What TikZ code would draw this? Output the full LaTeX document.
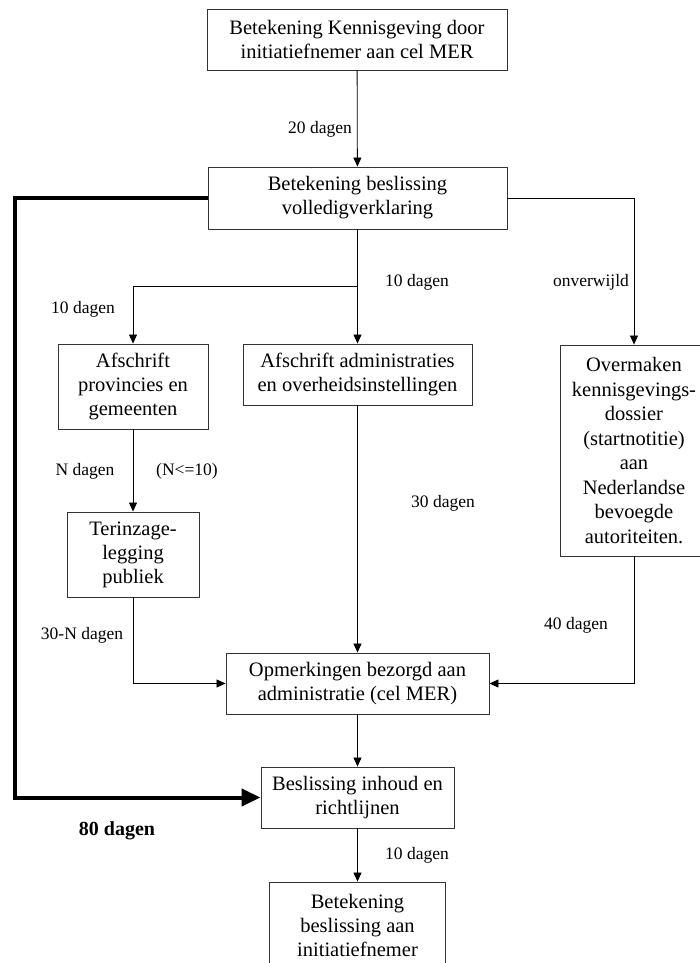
\documentclass[tikz,border=0pt]{standalone}
\usepackage{fontspec}
\setmainfont{Liberation Serif}
\usepackage{xcolor}
\definecolor{linecolor}{HTML}{000000}
\definecolor{boxborder}{HTML}{333333}
\definecolor{textcolor}{HTML}{000000}
\usetikzlibrary{positioning,arrows.meta}
\tikzset{
    stage/.style={
        rectangle,
        draw=boxborder,
        fill=white,
        text=textcolor,
        inner sep=0pt,
        align=center,
        line width=0.9pt,
        font=\fontsize{20.5}{24}\selectfont,
    },
    flow/.style={
        -{Triangle[length=9pt,width=8pt]},
        line width=0.8pt,
        linecolor,
    },
    mainflow/.style={
        -{Triangle[length=19pt,width=17pt]},
        line width=4pt,
        miter limit=10,
        linecolor,
    },
    daylabel/.style={
        text=textcolor,
        inner sep=0pt,
        font=\fontsize{17.5}{21}\selectfont,
    },
}

\begin{document}
\begin{tikzpicture}[x=1pt,y=-1pt]
    \useasboundingbox (0,0) rectangle (699,963);

    % boxes
    \node[stage, minimum width=300pt, minimum height=61pt] (kennis) at (357,39.5) {Betekening Kennisgeving door\\initiatiefnemer aan cel MER};
    \node[stage, minimum width=299pt, minimum height=62pt] (volledig) at (357.5,198) {Betekening beslissing\\volledigverklaring};
    \node[stage, minimum width=150pt, minimum height=85pt] (provincies) at (133,386.5) {Afschrift\\provincies en\\gemeenten};
    \node[stage, minimum width=229pt, minimum height=61pt] (admin) at (357.5,374.5) {Afschrift administraties\\en overheidsinstellingen};
    \node[stage, minimum width=148pt, minimum height=211pt, font=\fontsize{20.5}{24.5}\selectfont] (overmaken) at (634,450.5) {Overmaken\\kennisgevings-\\dossier\\(startnotitie)\\aan\\Nederlandse\\bevoegde\\autoriteiten.};
    \node[stage, minimum width=132pt, minimum height=85pt] (terinzage) at (133,554.5) {Terinzage-\\legging\\publiek};
    \node[stage, minimum width=263pt, minimum height=61pt] (opmerkingen) at (357.5,683.5) {Opmerkingen bezorgd aan\\administratie (cel MER)};
    \node[stage, minimum width=193pt, minimum height=61pt] (beslissing) at (357.5,797.5) {Beslissing inhoud en\\richtlijnen};
    \node[stage, minimum width=176pt, minimum height=86pt] (betekening) at (357.5,925) {Betekening\\beslissing aan\\initiatiefnemer};

    % bend points
    \coordinate (split) at (357.5,286);
    \coordinate (bend) at (15,198);

    % connectors
    \draw[flow] (kennis) -- (volledig);
    \draw[flow] (volledig) -- (admin);
    \draw[flow] (split) -| (provincies);
    \draw[flow] (volledig.east) -| (overmaken.north);
    \draw[flow] (provincies) -- (terinzage);
    \draw[flow] (terinzage.south) |- (opmerkingen.west);
    \draw[flow] (admin) -- (opmerkingen);
    \draw[flow] (overmaken.south) |- (opmerkingen.east);
    \draw[flow] (opmerkingen) -- (beslissing);
    \draw[flow] (beslissing) -- (betekening);
    \draw[mainflow] (volledig.west) -- (bend) |- (beslissing.west);

    % durations
    \node[daylabel] (d20) at (320,129) {20 dagen};
    \node[daylabel] (d10links) at (83,309) {10 dagen};
    \node[daylabel] (d10midden) at (417,282) {10 dagen};
    \node[daylabel] (onverwijld) at (591,282) {onverwijld};
    \node[daylabel] (ndagen) at (85,471) {N dagen};
    \node[daylabel] (nmax) at (187,471) {(N<=10)};
    \node[daylabel] (d30) at (443,503) {30 dagen};
    \node[daylabel] (d30n) at (82,635) {30-N dagen};
    \node[daylabel] (d40) at (576,625) {40 dagen};
    \node[daylabel, font=\fontsize{20}{24}\selectfont\bfseries] (d80) at (117,831) {80 dagen};
    \node[daylabel] (d10eind) at (417,855) {10 dagen};
\end{tikzpicture}
\end{document}
